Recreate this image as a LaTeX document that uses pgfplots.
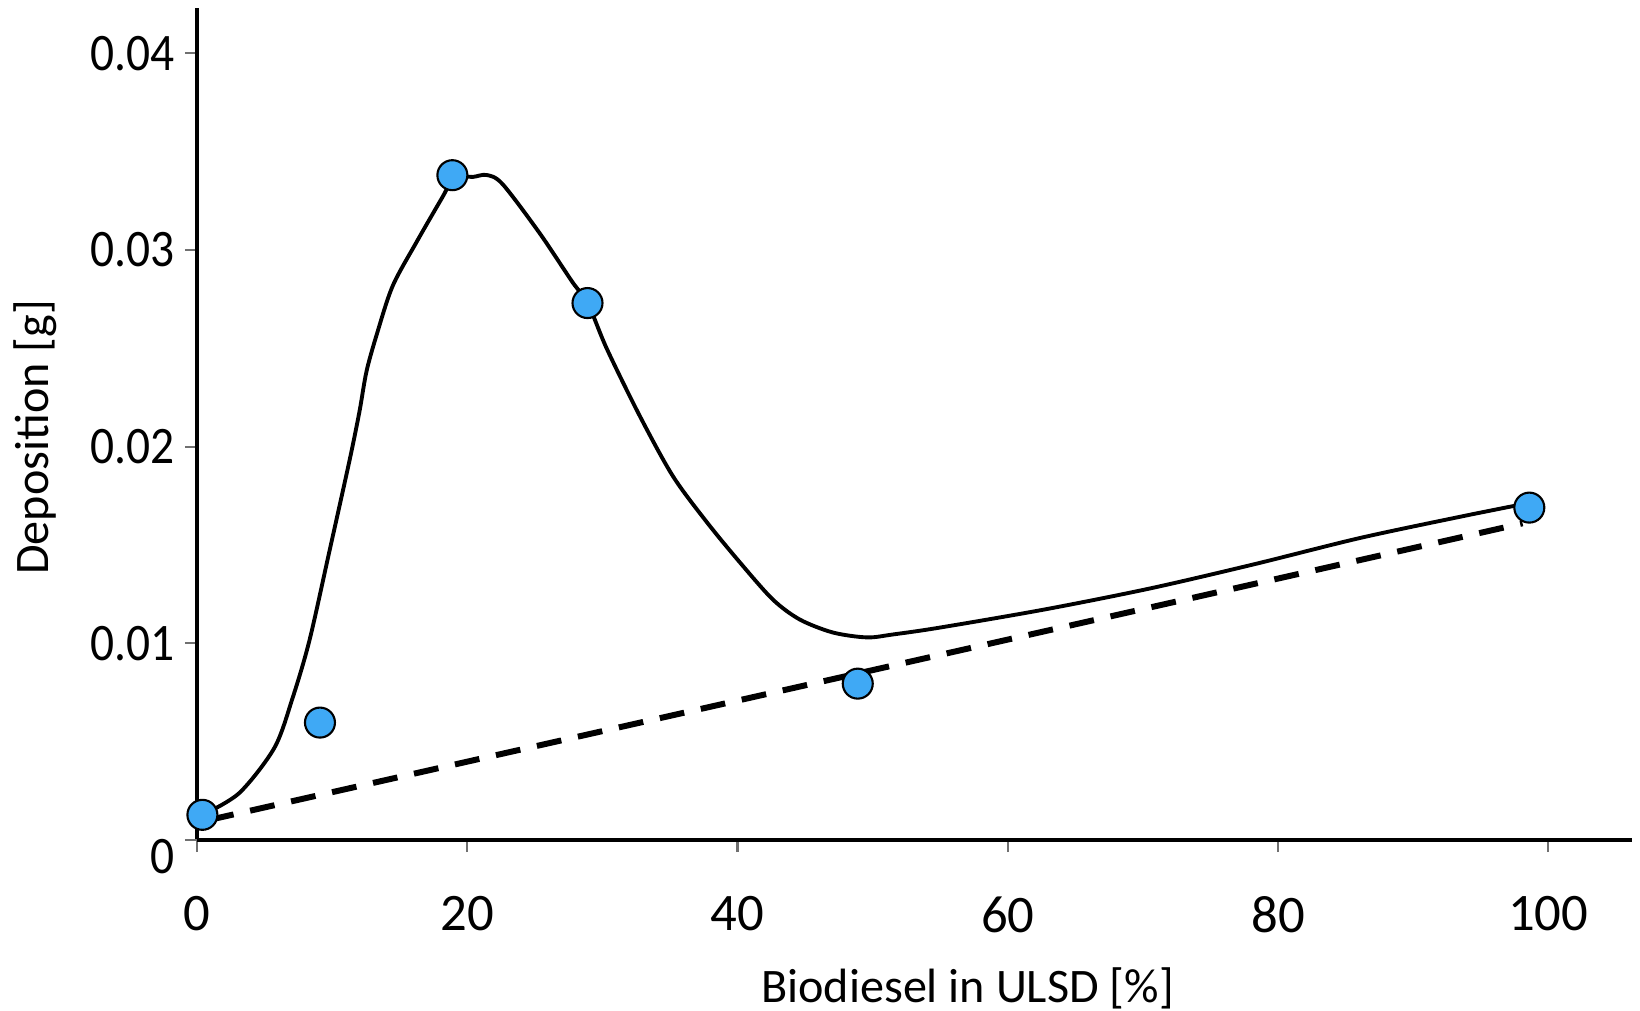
\documentclass[border=0pt]{standalone}
\usepackage{fontspec}
\setmainfont{Carlito}
\usepackage{pgfplots}
\pgfplotsset{compat=1.18}
\definecolor{ptblue}{HTML}{3FA9F5}
\definecolor{tickgray}{HTML}{707070}

\begin{document}
\begin{tikzpicture}
\path[use as bounding box] (-19.7mm,-17mm) rectangle (144.3mm,84mm);
\begin{axis}[
  scale only axis,
  width=143.5mm, height=83.2mm,
  xmin=0, xmax=106.2, ymin=0, ymax=0.0423,
  axis lines*=left,
  axis line style={black, line width=0.9pt},
  tick align=outside,
  major tick length=1.2mm,
  every tick/.style={tickgray, line width=0.6pt},
  xtick={0,20,40,60,80,100},
  ytick={0.01,0.02,0.03,0.04},
  yticklabels={0.01,0.02,0.03,0.04},
  extra y ticks={0},
  extra y tick labels={0},
  extra y tick style={yticklabel style={yshift=-1.7mm}},
  /pgf/number format/assume math mode=true,
  tick label style={font=\fontsize{15}{17}\selectfont},
  xticklabel style={yshift=-3.2mm},
  yticklabel style={xshift=0.1mm, xscale=0.9},
  xlabel={Biodiesel in ULSD [\%]},
  ylabel={Deposition [g]},
  label style={font=\fontsize{13.7}{16}\selectfont},
  xlabel style={at={(axis description cs:0.537,0)}, anchor=north, yshift=-11.5mm},
  ylabel style={at={(axis description cs:-0.113,0.484)}, anchor=center},
  clip=false,
]
% smooth trend curve
\addplot[black, line width=1.1pt, smooth, tension=0.5] coordinates {
  (0.39,0.00127) (3.13,0.00239) (5.73,0.00469) (7.06,0.00719) (8.32,0.01014)
  (9.80,0.01468) (11.28,0.01927) (12.02,0.02177) (12.54,0.02381) (13.28,0.02565)
  (14.47,0.02815) (16.24,0.03039) (18.17,0.03269) (19.06,0.03371) (20.39,0.03371)
  (21.43,0.03381) (22.61,0.03335) (25.36,0.03085) (27.8,0.02835) (28.9,0.02733)
  (30.32,0.02499) (32.76,0.02157) (35.21,0.01851) (37.73,0.01616) (40.17,0.01412)
  (42.61,0.01223) (44.61,0.01121) (47.06,0.01055) (49.58,0.0103) (51.5,0.01045)
  (54.98,0.0108) (62.8,0.01173) (70.6,0.0128) (78.3,0.01403) (86.1,0.01536)
  (93.8,0.01648) (98.1,0.01707)
};
% linear reference
\addplot[black, line width=1.7pt, dash pattern=on 2.5mm off 1.7mm] coordinates {
  (0.9,0.00102) (98.1,0.0161)
};
% measured points
\addplot[only marks, mark=*, mark size=1.5mm,
  mark options={fill=ptblue, draw=black, line width=0.6pt}] coordinates {
  (0.4,0.00128) (9.1,0.00597) (18.9,0.0338) (28.9,0.0273) (48.9,0.00795) (98.6,0.0169)
};
\end{axis}
\end{tikzpicture}
\end{document}
